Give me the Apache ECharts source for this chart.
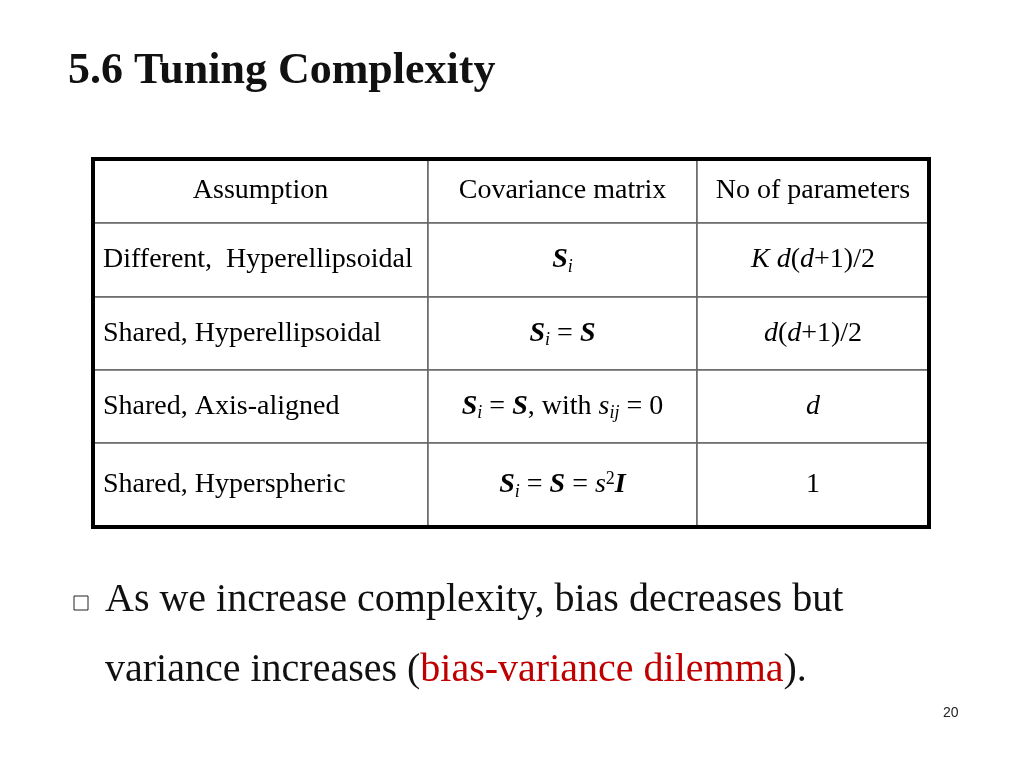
<!DOCTYPE html>
<html><head><meta charset="utf-8">
<script src="https://cdn.jsdelivr.net/npm/echarts@6/dist/echarts.min.js"></script>
<style>html,body{margin:0;background:#fff}#c{width:1024px;height:768px}</style>
</head><body><div id="c"></div>
<script>
const headers = ['Assumption', 'Covariance matrix', 'No of parameters'];
const assumptions = ['Different,  Hyperellipsoidal', 'Shared, Hyperellipsoidal', 'Shared, Axis-aligned', 'Shared, Hyperspheric'];
const covariance = ['{b|S}{sub|i}', '{b|S}{sub|i}{n| = }{b|S}', '{b|S}{sub|i}{n| = }{b|S}{n|, with }{i|s}{sub|ij}{n| = 0}', '{b|S}{sub|i}{n| = }{b|S}{n| = }{i|s}{sup|2}{b|I}'];
const params = ['{i|K d}{n|(}{i|d}{n|+1)/2}', '{i|d}{n|(}{i|d}{n|+1)/2}', '{i|d}', '{n|1}'];
const colEdges = [0, 335, 604, 836];
const rowEdges = [0, 64, 138, 211, 284, 368];

const cells = [];
headers.forEach((h, c) => cells.push([c, 0, '{n|' + h + '}', 'center']));
assumptions.forEach((a, r) => {
  cells.push([0, r + 1, '{n|' + a + '}', 'left']);
  cells.push([1, r + 1, covariance[r], 'center']);
  cells.push([2, r + 1, params[r], 'center']);
});
const F = '"Liberation Serif", "Times New Roman", serif';
const rich = {
  n: {fontFamily: F, fontSize: 28, color: '#111'},
  b: {fontFamily: F, fontSize: 28, fontWeight: 'bold', fontStyle: 'italic', color: '#111'},
  i: {fontFamily: F, fontSize: 28, fontStyle: 'italic', color: '#111'},
  sub: {fontFamily: F, fontSize: 18, fontStyle: 'italic', color: '#111', padding: [14, 0, 0, 0]},
  sup: {fontFamily: F, fontSize: 18, color: '#111', padding: [0, 0, 12, 0]}
};
const chart = echarts.init(document.getElementById('c'));
chart.setOption({
  animation: false,
  grid: {left: 93, top: 159, width: 836, height: 368},
  xAxis: {type: 'value', min: 0, max: 836, show: false},
  yAxis: {type: 'value', min: 0, max: 368, inverse: true, show: false},
  series: [{
    type: 'custom',
    data: cells,
    renderItem: (params, api) => {
      const c = api.value(0), r = api.value(1);
      const p0 = api.coord([colEdges[c], rowEdges[r]]);
      const p1 = api.coord([colEdges[c + 1], rowEdges[r + 1]]);
      const d = cells[params.dataIndex];
      return {
        type: 'group',
        children: [
          {type: 'rect', shape: {x: p0[0], y: p0[1], width: p1[0] - p0[0], height: p1[1] - p0[1]},
           style: {fill: '#fff', stroke: '#666', lineWidth: 1.5}},
          {type: 'text', x: d[3] === 'left' ? p0[0] + 10 : (p0[0] + p1[0]) / 2, y: (p0[1] + p1[1]) / 2,
           style: {text: d[2], rich: rich, align: d[3], verticalAlign: 'middle'}}
        ]
      };
    }
  }],
  graphic: [
    {type: 'rect', shape: {x: 93, y: 159, width: 836, height: 368}, style: {fill: 'none', stroke: '#000', lineWidth: 4}, z: 100},
    {type: 'text', left: 68, top: 50, style: {text: '5.6 Tuning Complexity', font: 'bold 44px ' + F, fill: '#111'}},
    {type: 'rect', shape: {x: 74, y: 596, width: 14, height: 14}, style: {fill: 'none', stroke: '#222', lineWidth: 1}},
    {type: 'text', left: 105, top: 580, style: {text: 'As we increase complexity, bias decreases but', font: '40px ' + F, fill: '#111'}},
    {type: 'text', left: 105, top: 650, style: {
      text: '{n|variance increases (}{r|bias-variance dilemma}{n|).}',
      rich: {n: {font: '40px ' + F, fill: '#111'}, r: {font: '40px ' + F, fill: '#c00000'}}}},
    {type: 'text', left: 943, top: 706, style: {text: '20', font: '14px "Liberation Sans", Arial, sans-serif', fill: '#222'}}
  ]
});
</script></body></html>
